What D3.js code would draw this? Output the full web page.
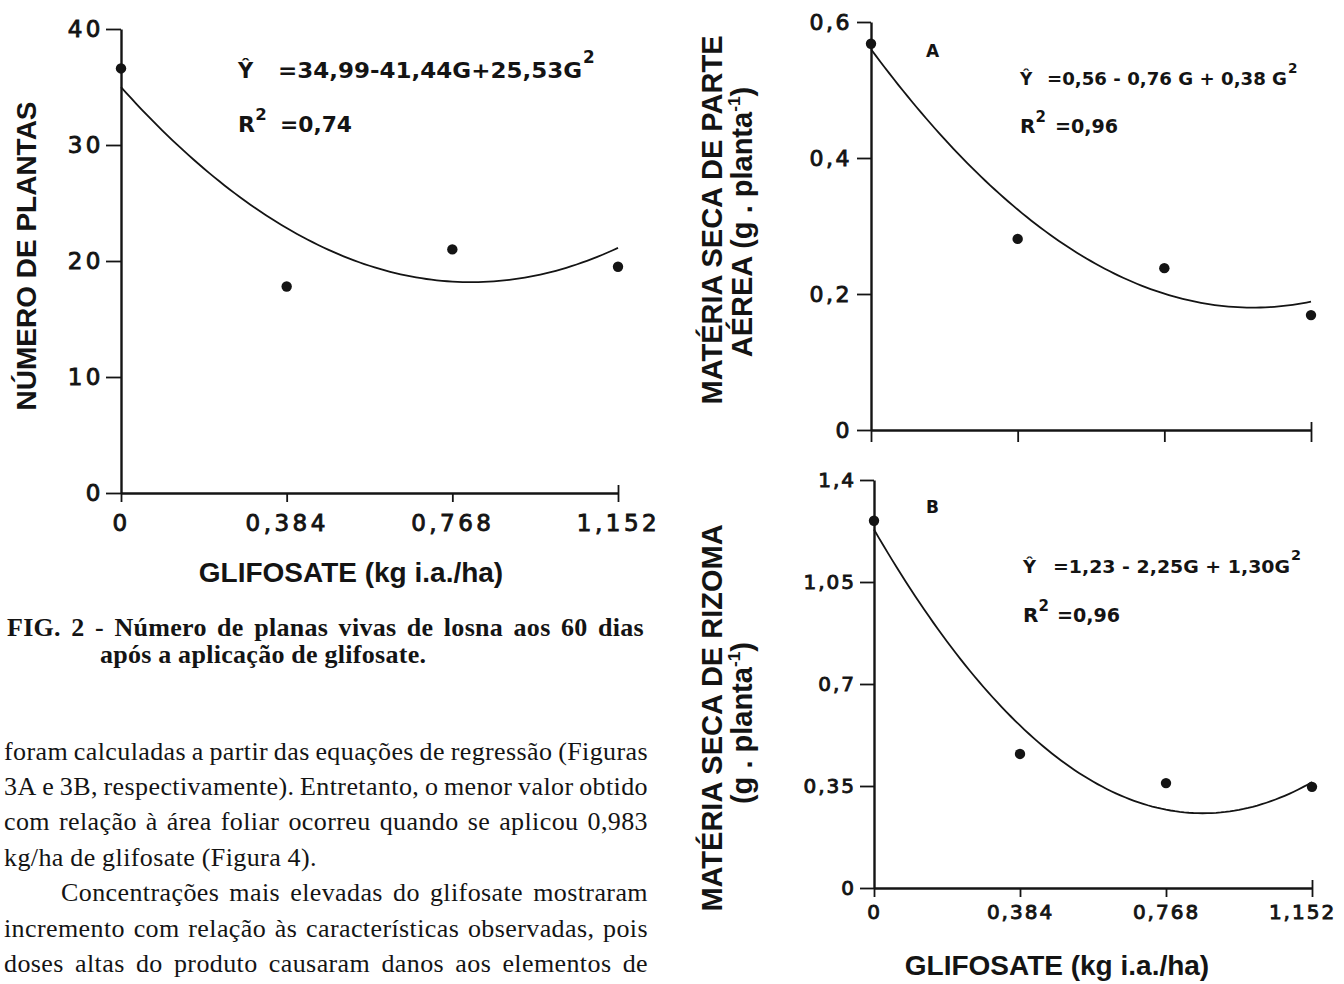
<!DOCTYPE html>
<html>
<head>
<meta charset="utf-8">
<script src="https://cdn.jsdelivr.net/npm/d3@7"></script>
<style>
  body { margin: 0; background: #fff; }
  svg text { fill: #141414; }
</style>
</head>
<body>
<svg width="1344" height="984"></svg>
<script>
// doses of glifosate (kg i.a./ha)
const doses = [0, 0.384, 0.768, 1.152];
const doseLabels = ["0", "0,384", "0,768", "1,152"];

// Fig. 2 - number of plants
const plantas = [36.6, 17.8, 21.0, 19.5];
const plantasCoef = [34.99, -41.44, 25.53];
const plantasTicks = [0, 10, 20, 30, 40];

// Fig. 3A - dry matter, aerial part
const aerea = [0.568, 0.281, 0.238, 0.169];
const aereaCoef = [0.56, -0.76, 0.38];
const aereaTicks = [0, 0.2, 0.4, 0.6];

// Fig. 3B - dry matter, rhizome
const rizoma = [1.26, 0.46, 0.36, 0.347];
const rizomaCoef = [1.23, -2.25, 1.30];
const rizomaTicks = [0, 0.35, 0.7, 1.05, 1.4];

const equations = ["=34,99-41,44G+25,53G", "=0,56 - 0,76 G + 0,38 G", "=1,23 - 2,25G + 1,30G"];
const r2Values = ["=0,74", "=0,96", "=0,96"];

const captionLines = [
  "FIG. 2 - Número de planas vivas de losna aos 60 dias",
  "após a aplicação de glifosate."
];
const bodyLines = [
  "foram calculadas a partir das equações de regressão (Figuras",
  "3A e 3B, respectivamente). Entretanto, o menor valor obtido",
  "com relação à área foliar ocorreu quando se aplicou 0,983",
  "kg/ha de glifosate (Figura 4).",
  "Concentrações mais elevadas do glifosate mostraram",
  "incremento com relação às características observadas, pois",
  "doses altas do produto causaram danos aos elementos de"
];

const svg = d3.select("svg");
const comma = d => String(d).replace(".", ",");
const INK = "#141414";
const TITLE_FONT = "'Liberation Sans', Arial, sans-serif";
const LABEL_FONT = "'DejaVu Sans', sans-serif";

function drawPanel(p) {
  const x = d3.scaleLinear().domain([0, doses[doses.length - 1]]).range(p.xRange);
  const y = d3.scaleLinear().domain([0, p.yTicks[p.yTicks.length - 1]]).range(p.yRange);
  const g = svg.append("g");

  const ay = g.append("g")
    .attr("transform", `translate(${p.xRange[0]},0)`)
    .call(d3.axisLeft(y).tickValues(p.yTicks).tickFormat(comma)
      .tickSizeInner(p.yTick).tickSizeOuter(0).tickPadding(p.yPad));
  const ax = g.append("g")
    .attr("transform", `translate(0,${p.yRange[0]})`)
    .call(d3.axisBottom(x).tickValues(doses)
      .tickFormat((d, i) => p.xLabels ? doseLabels[i] : "")
      .tickSizeInner(p.xTick).tickSizeOuter(0).tickPadding(p.xPad));
  ax.select(".tick:last-of-type line").attr("y1", -8);
  if (p.lastLabelDx) ax.select(".tick:last-of-type text").attr("dx", p.lastLabelDx);

  [ax, ay].forEach(a => {
    a.attr("font-family", null).attr("font-size", null);
    a.select(".domain").attr("stroke", INK).attr("stroke-width", 2.4);
    a.selectAll(".tick line").attr("stroke", INK).attr("stroke-width", 1.8);
    a.selectAll(".tick text")
      .attr("font-family", LABEL_FONT)
      .attr("font-size", p.tickFont)
      .attr("letter-spacing", p.tickSpacing)
      .attr("fill", INK).attr("stroke", INK).attr("stroke-width", 0.9);
  });

  // fitted regression curve from the printed equation
  const fit = G => p.coef[0] + p.coef[1] * G + p.coef[2] * G * G;
  const gs = d3.range(0, doses[doses.length - 1] + 1e-9, 0.012);
  g.append("path")
    .attr("d", d3.line().x(d => x(d)).y(d => y(fit(d)))(gs))
    .attr("fill", "none").attr("stroke", INK).attr("stroke-width", 1.8);

  g.selectAll("circle").data(p.values).enter().append("circle")
    .attr("cx", (d, i) => x(doses[i]))
    .attr("cy", d => y(d))
    .attr("r", 5.2)
    .attr("fill", INK);

  // y title (one or two rotated lines)
  p.yTitle.forEach(t => {
    const tx = g.append("text")
      .attr("transform", `translate(${t.x},${t.y}) rotate(-90)`)
      .attr("text-anchor", "middle")
      .attr("font-family", TITLE_FONT).attr("font-weight", "bold")
      .attr("font-size", p.titleFont);
    tx.append("tspan").text(t.text);
    if (t.sup) {
      tx.append("tspan").attr("font-size", p.titleFont * 0.6).attr("dy", -p.titleFont * 0.4).text(t.sup);
      tx.append("tspan").attr("dy", p.titleFont * 0.4).text(")");
    }
  });

  if (p.xTitle) {
    g.append("text")
      .attr("x", p.xTitle.x).attr("y", p.xTitle.y)
      .attr("text-anchor", "middle")
      .attr("font-family", TITLE_FONT).attr("font-weight", "bold")
      .attr("font-size", 28)
      .text("GLIFOSATE (kg i.a./ha)");
  }

  if (p.letter) {
    g.append("text")
      .attr("x", p.letter.x).attr("y", p.letter.y)
      .attr("font-family", LABEL_FONT).attr("font-weight", "bold")
      .attr("font-size", 17).text(p.letter.text);
  }

  // equation and R2
  const e = p.eq;
  const eqText = (tx, ty, size, txt) => g.append("text")
    .attr("x", tx).attr("y", ty)
    .attr("font-family", LABEL_FONT).attr("font-weight", "bold")
    .attr("font-size", size).text(txt);
  eqText(e.x, e.y1, e.f1, "Ŷ");
  eqText(e.x + e.dx1, e.y1, e.f1, e.text)
    .attr("textLength", e.w1).attr("lengthAdjust", "spacingAndGlyphs");
  eqText(e.x + e.dx1 + e.w1 + 1, e.y1 - e.f1 * 0.7, e.f1 * 0.8, "2");
  eqText(e.x, e.y2, e.f2, "R");
  eqText(e.x + e.f2 * 0.78, e.y2 - e.f2 * 0.55, e.f2 * 0.75, "2");
  eqText(e.x + e.dx2, e.y2, e.f2, e.r2)
    .attr("textLength", e.w2).attr("lengthAdjust", "spacingAndGlyphs");
}

drawPanel({
  values: plantas, coef: plantasCoef, yTicks: plantasTicks,
  xRange: [121, 618], yRange: [493, 29],
  yTick: 15, yPad: 2, xTick: 9, xPad: 13, xLabels: true,
  tickFont: 23, tickSpacing: 3.5, titleFont: 28,
  yTitle: [{ x: 36, y: 256, text: "NÚMERO DE PLANTAS" }],
  xTitle: { x: 351, y: 582 },
  eq: { x: 238, y1: 78, f1: 21, dx1: 40, w1: 304, text: equations[0],
        y2: 132, f2: 22, dx2: 42, w2: 72, r2: r2Values[0] }
});

drawPanel({
  values: aerea, coef: aereaCoef, yTicks: aereaTicks,
  xRange: [871, 1311], yRange: [430, 22],
  yTick: 14, yPad: 5, xTick: 12, xPad: 6, xLabels: false,
  tickFont: 22, tickSpacing: 2.5, titleFont: 29,
  yTitle: [{ x: 722, y: 220, text: "MATÉRIA SECA DE PARTE" },
           { x: 752, y: 222, text: "AÉREA (g . planta", sup: "-1" }],
  letter: { x: 926, y: 57, text: "A" },
  eq: { x: 1020, y1: 85, f1: 17, dx1: 27, w1: 240, text: equations[1],
        y2: 133, f2: 20, dx2: 35, w2: 63, r2: r2Values[1] }
});

drawPanel({
  values: rizoma, coef: rizomaCoef, yTicks: rizomaTicks,
  xRange: [874, 1312], yRange: [888, 480],
  yTick: 14, yPad: 4, xTick: 9, xPad: 8, xLabels: true, lastLabelDx: -10,
  tickFont: 20, tickSpacing: 2, titleFont: 29,
  yTitle: [{ x: 722, y: 718, text: "MATÉRIA SECA DE RIZOMA" },
           { x: 752, y: 723, text: "(g . planta", sup: "-1" }],
  xTitle: { x: 1057, y: 975 },
  letter: { x: 926, y: 513, text: "B" },
  eq: { x: 1023, y1: 573, f1: 18, dx1: 30, w1: 237, text: equations[2],
        y2: 622, f2: 20, dx2: 34, w2: 63, r2: r2Values[2] }
});

// justified text lines (words spread between x0 and x1)
function textLine(str, x0, x1, y, font, justify) {
  const words = str.split(" ");
  const g = svg.append("g")
    .attr("font-family", font.family).attr("font-weight", font.weight)
    .attr("font-size", font.size).attr("letter-spacing", font.spacing);
  const nodes = words.map(w => g.append("text").attr("y", y).text(w));
  const widths = nodes.map(n => n.node().getComputedTextLength());
  const total = d3.sum(widths);
  const space = font.size * 0.25;
  let gap = justify && words.length > 1 ? (x1 - x0 - total) / (words.length - 1) : space;
  if (gap < space * 0.4) gap = space * 0.4;
  let cx = x0;
  nodes.forEach((n, i) => { n.attr("x", cx); cx += widths[i] + gap; });
}

const captionFont = { family: "'Liberation Serif', 'Times New Roman', serif", weight: "bold", size: 26, spacing: 0.3 };
textLine(captionLines[0], 7, 644, 636, captionFont, true);
textLine(captionLines[1], 100, 644, 663, captionFont, false);

const bodyFont = { family: "'Liberation Serif', 'Times New Roman', serif", weight: "normal", size: 26, spacing: 0.4 };
const bodyBase = [760, 795, 830, 866, 901, 937, 972];
const bodyJustify = [true, true, true, false, true, true, true];
const bodyIndent = [4, 4, 4, 4, 61, 4, 4];
bodyLines.forEach((l, i) => textLine(l, bodyIndent[i], 648, bodyBase[i], bodyFont, bodyJustify[i]));
</script>
</body>
</html>
